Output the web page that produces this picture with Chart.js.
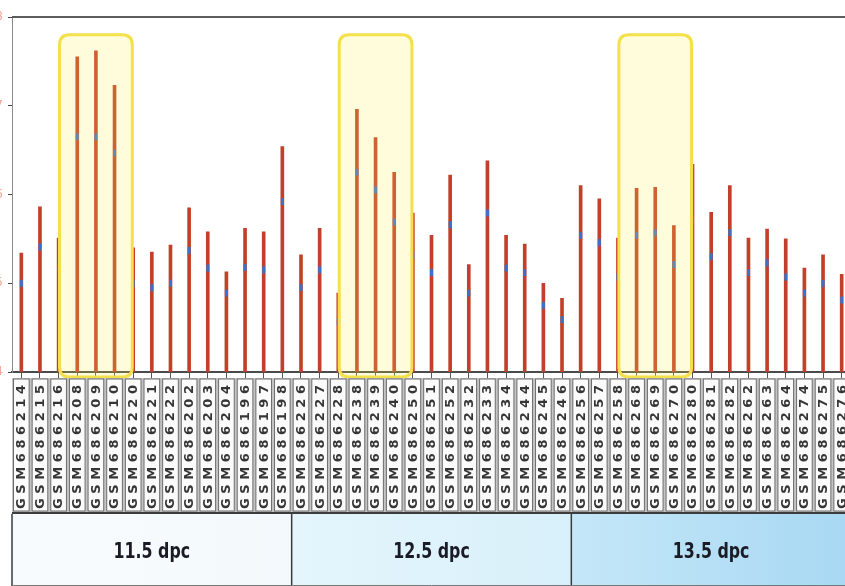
<!DOCTYPE html>
<html>
<head>
<meta charset="utf-8">
<script src="https://cdn.jsdelivr.net/npm/chart.js@4.4.1/dist/chart.umd.min.js"></script>
<style>
  html, body { margin: 0; padding: 0; background: #ffffff; overflow: hidden; }
  #wrap { position: relative; width: 845px; height: 586px; overflow: hidden; }
  #grafico { position: absolute; left: -18px; top: 0; }
</style>
</head>
<body>
<div id="wrap"><canvas id="grafico" width="880" height="586"></canvas></div>
<script>
// amostras (GSM) na ordem do gráfico
const amostras = [
    'GSM686214', 'GSM686215', 'GSM686216', 'GSM686208', 'GSM686209', 'GSM686210',
    'GSM686220', 'GSM686221', 'GSM686222', 'GSM686202', 'GSM686203', 'GSM686204',
    'GSM686196', 'GSM686197', 'GSM686198',
    'GSM686226', 'GSM686227', 'GSM686228', 'GSM686238', 'GSM686239', 'GSM686240',
    'GSM686250', 'GSM686251', 'GSM686252', 'GSM686232', 'GSM686233', 'GSM686234',
    'GSM686244', 'GSM686245', 'GSM686246',
    'GSM686256', 'GSM686257', 'GSM686258', 'GSM686268', 'GSM686269', 'GSM686270',
    'GSM686280', 'GSM686281', 'GSM686282', 'GSM686262', 'GSM686263', 'GSM686264',
    'GSM686274', 'GSM686275', 'GSM686276'
]

// valor (barra vermelha)
const valores = [
    5.34, 5.86, 5.51, 7.55, 7.62, 7.23, 5.40, 5.35, 5.43, 5.85, 5.58, 5.13, 5.62, 5.58, 6.54,
    5.32, 5.62, 4.89, 6.96, 6.64, 6.25, 5.79, 5.54, 6.22, 5.21, 6.38, 5.54, 5.44, 5.00, 4.83,
    6.10, 5.95, 5.51, 6.07, 6.08, 5.65, 6.34, 5.80, 6.10, 5.51, 5.61, 5.50, 5.17, 5.32, 5.10
]

// marca azul
const marcas = [
    5.00, 5.41, 5.18, 6.65, 6.65, 6.47, 5.00, 4.95, 5.00, 5.37, 5.17, 4.89, 5.18, 5.15, 5.92,
    4.95, 5.15, 4.56, 6.25, 6.05, 5.69, 5.32, 5.12, 5.66, 4.89, 5.79, 5.17, 5.12, 4.75, 4.59,
    5.54, 5.46, 5.07, 5.54, 5.57, 5.21, 5.71, 5.30, 5.57, 5.12, 5.23, 5.07, 4.89, 5.00, 4.81
]

const estagios = ['11.5 dpc', '12.5 dpc', '13.5 dpc']
const tamanhoGrupo = 15
const destaques = [4, 19, 34]   // barra central de cada caixa amarela
const topoDestaque = 7.8
const yTicks = [4, 5, 6, 7, 8]

const coresEstagio = [
    ['#f8fbfd', '#f3f9fc'],
    ['#e4f5fc', '#d8f0fa'],
    ['#c4e7f8', '#a8d8f3']
]

function caixaArredondada(ctx, x, y, w, h, r) {
    ctx.beginPath()
    ctx.moveTo(x + r, y)
    ctx.lineTo(x + w - r, y)
    ctx.quadraticCurveTo(x + w, y, x + w, y + r)
    ctx.lineTo(x + w, y + h - r)
    ctx.quadraticCurveTo(x + w, y + h, x + w - r, y + h)
    ctx.lineTo(x + r, y + h)
    ctx.quadraticCurveTo(x, y + h, x, y + h - r)
    ctx.lineTo(x, y + r)
    ctx.quadraticCurveTo(x, y, x + r, y)
    ctx.closePath()
}

const pluginDestaque = {
    id: 'destaque',
    afterDatasetsDraw(chart) {
        const { ctx, chartArea, scales } = chart
        const passo = scales.x.getPixelForValue(1) - scales.x.getPixelForValue(0)
        const topo = scales.y.getPixelForValue(topoDestaque)
        ctx.save()
        destaques.forEach(i => {
            const cx = scales.x.getPixelForValue(i)
            const x0 = cx - passo * 1.95
            const w = passo * 3.9
            caixaArredondada(ctx, x0, topo, w, chartArea.bottom + 5 - topo, 10)
            ctx.fillStyle = 'rgba(255, 240, 80, 0.2)'
            ctx.fill()
            ctx.lineWidth = 3
            ctx.strokeStyle = '#f3e04a'
            ctx.stroke()
        })
        ctx.restore()
    }
}

const pluginRotulos = {
    id: 'rotulos',
    afterDraw(chart) {
        const { ctx, chartArea, scales } = chart
        const x = scales.x
        const passo = x.getPixelForValue(1) - x.getPixelForValue(0)
        const esq = x.getPixelForValue(0) - passo / 2
        const dir = x.getPixelForValue(amostras.length - 1) + passo / 2
        const y0 = chartArea.bottom + 6
        const y1 = 512

        ctx.save()
        // moldura superior
        ctx.strokeStyle = '#5c5c5c'
        ctx.lineWidth = 2
        ctx.beginPath()
        ctx.moveTo(chartArea.left, chartArea.top)
        ctx.lineTo(chartArea.right, chartArea.top)
        ctx.stroke()

        // faixa das amostras
        ctx.fillStyle = '#c4c4c4'
        ctx.fillRect(esq, y0, dir - esq, y1 - y0)
        amostras.forEach((nome, i) => {
            const cx = x.getPixelForValue(i)
            ctx.fillStyle = '#fbfbfb'
            ctx.fillRect(cx - passo / 2 + 1.5, y0 + 1, passo - 3, y1 - y0 - 2)
            ctx.strokeStyle = '#6e6e6e'
            ctx.lineWidth = 1
            ctx.strokeRect(cx - passo / 2 + 1.5, y0 + 1, passo - 3, y1 - y0 - 2)

            ctx.save()
            ctx.translate(cx, y1 - 3)
            ctx.rotate(-Math.PI / 2)
            ctx.font = 'bold 13px "DejaVu Sans"'
            ctx.fillStyle = '#363636'
            ctx.textBaseline = 'middle'
            ctx.textAlign = 'left'
            let pos = 0
            for (const c of nome) {
                ctx.fillText(c, pos, 0.5)
                pos += ctx.measureText(c).width + 4.6
            }
            ctx.restore()
        })
        ctx.strokeStyle = '#3c3c3c'
        ctx.lineWidth = 2
        ctx.beginPath()
        ctx.moveTo(esq, y1 + 1)
        ctx.lineTo(dir, y1 + 1)
        ctx.stroke()

        // faixas de estágio
        estagios.forEach((txt, g) => {
            const a = x.getPixelForValue(g * tamanhoGrupo) - passo / 2
            const b = x.getPixelForValue(g * tamanhoGrupo + tamanhoGrupo - 1) + passo / 2
            const grad = ctx.createLinearGradient(a, 0, b, 0)
            grad.addColorStop(0, coresEstagio[g][0])
            grad.addColorStop(1, coresEstagio[g][1])
            ctx.fillStyle = grad
            ctx.fillRect(a, y1 + 2, b - a, 586 - y1 - 3)
            ctx.strokeStyle = '#3a3a3a'
            ctx.lineWidth = 1.5
            ctx.beginPath()
            ctx.moveTo(a, y1 + 2)
            ctx.lineTo(a, 586)
            ctx.stroke()

            ctx.save()
            ctx.translate((a + b) / 2, 552)
            ctx.scale(0.72, 1)
            ctx.font = 'bold 22px "DejaVu Sans", sans-serif'
            ctx.fillStyle = '#1b1b26'
            ctx.textAlign = 'center'
            ctx.textBaseline = 'middle'
            ctx.fillText(txt, 0, 0)
            ctx.restore()
        })
        ctx.strokeStyle = '#777'
        ctx.lineWidth = 1
        ctx.beginPath()
        ctx.moveTo(esq, 585.5)
        ctx.lineTo(dir, 585.5)
        ctx.stroke()
        ctx.restore()
    }
}

const grafico = document.getElementById('grafico')

new Chart(grafico, {
    type: 'bar',
    data: {
        labels: amostras,
        datasets: [{
            label: 'Valor',
            data: valores,
            backgroundColor: '#c2402b',
            barThickness: 3,
            order: 2
        }, {
            type: 'line',
            label: 'Marca',
            data: marcas,
            showLine: false,
            pointStyle: 'line',
            rotation: 90,
            pointRadius: 3.5,
            pointBorderWidth: 3,
            borderColor: '#3f70c9',
            backgroundColor: '#3f70c9',
            order: 1
        }]
    },
    options: {
        responsive: false,
        animation: false,
        devicePixelRatio: 1,
        layout: { padding: { top: 17, right: 11, left: 0, bottom: 0 } },
        plugins: {
            legend: { display: false },
            tooltip: { enabled: false }
        },
        scales: {
            x: {
                offset: true,
                grid: { drawOnChartArea: false, offset: false, tickLength: 6, color: '#555' },
                border: { color: '#4a4a4a', width: 2 },
                ticks: { display: false },
                afterFit: s => { s.height = 586 - 372 }
            },
            y: {
                min: 4,
                max: 8,
                afterBuildTicks: s => { s.ticks = yTicks.map(v => ({ value: v })) },
                ticks: { color: '#f2a898', font: { size: 12, family: 'DejaVu Sans' }, padding: 5 },
                grid: { drawOnChartArea: false, tickLength: 4, color: '#444' },
                border: { color: '#8a8a8a', width: 1 },
                afterFit: s => { s.width = 30 }
            }
        }
    },
    plugins: [pluginDestaque, pluginRotulos]
})
</script>
</body>
</html>
